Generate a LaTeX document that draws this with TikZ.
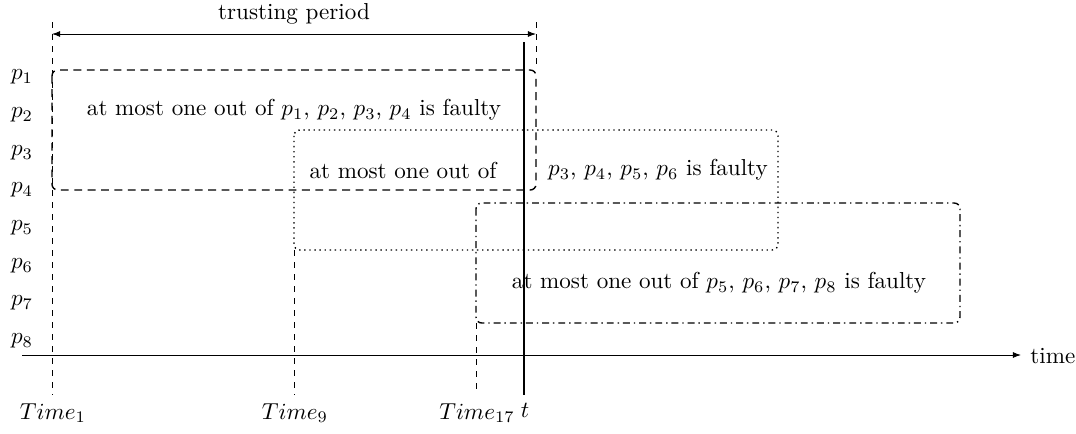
\documentclass[tikz,border=0pt]{standalone}
\usetikzlibrary{arrows.meta}
\begin{document}
\begin{tikzpicture}[x=0.433pt,y=-0.433pt,
  >={Latex[length=3.5pt,width=2.6pt]},
  guide/.style={line width=0.4pt, dash pattern=on 2.6pt off 2.6pt},
  grpbox/.style={rounded corners=2.5pt, line width=0.6pt},
  dashbox/.style={grpbox, dash pattern=on 3.4pt off 2.4pt},
  dotbox/.style={grpbox, dash pattern=on 0.6pt off 1.6pt},
  dashdotbox/.style={grpbox, dash pattern=on 3pt off 1.7pt on 0.6pt off 1.7pt},
  plabel/.style={inner sep=1pt},
  tlabel/.style={inner sep=1pt}]
\useasboundingbox (0,0) rectangle (1076,433);

% guide coordinates
\coordinate (a1) at (52,22);
\coordinate (a1b) at (52,395);
\coordinate (b1) at (536,22);
\coordinate (b1b) at (536,70);
\coordinate (c1) at (294,250);
\coordinate (c1b) at (294,395);
\coordinate (d1) at (476,323);
\coordinate (d1b) at (476,395);
\coordinate (ta) at (524,42);
\coordinate (tb) at (524,395);
\coordinate (ax0) at (22,355);
\coordinate (ax1) at (1021,355);
\coordinate (tp0) at (52,34);
\coordinate (tp1) at (536,34);

% guides
\draw[guide] (a1) -- (a1b);
\draw[guide] (b1) -- (b1b);
\draw[guide] (c1) -- (c1b);
\draw[guide] (d1) -- (d1b);

% group boxes
\draw[dashbox] (52,70) rectangle (536,190);
\draw[dotbox] (294,130) rectangle (778,250);
\draw[dashdotbox] (476,203) rectangle (960,323);

% texts in boxes
\node (g1) at (294,110) {at most one out of $p_1$, $p_2$, $p_3$, $p_4$ is faulty};
\node (g2a) at (403,170) {at most one out of};
\node (g2b) at (658,170) {$p_3$, $p_4$, $p_5$, $p_6$ is faulty};
\node (g3) at (719,283) {at most one out of $p_5$, $p_6$, $p_7$, $p_8$ is faulty};

% trusting period
\draw[<->] (tp0) -- (tp1);
\node (tpl) at (294,14) {trusting period};

% time axis
\draw[->] (ax0) -- (ax1);
\node[anchor=west, inner sep=0pt] (tm) at (1030,356) {time};

% current time t
\draw[line width=0.85pt] (ta) -- (tb);

% process labels
\node[plabel] (p1) at (22,77) {$p_1$};
\node[plabel] (p2) at (22,115) {$p_2$};
\node[plabel] (p3) at (22,153) {$p_3$};
\node[plabel] (p4) at (22,190) {$p_4$};
\node[plabel] (p5) at (22,228) {$p_5$};
\node[plabel] (p6) at (22,266) {$p_6$};
\node[plabel] (p7) at (22,303) {$p_7$};
\node[plabel] (p8) at (22,341) {$p_8$};

% time labels
\node[tlabel] (T1) at (53,413) {$Time_1$};
\node[tlabel] (T9) at (295,413) {$Time_9$};
\node[tlabel] (T17) at (477,413) {$Time_{17}$};
\node[tlabel] (tt) at (525,410) {$t$};
\end{tikzpicture}
\end{document}
